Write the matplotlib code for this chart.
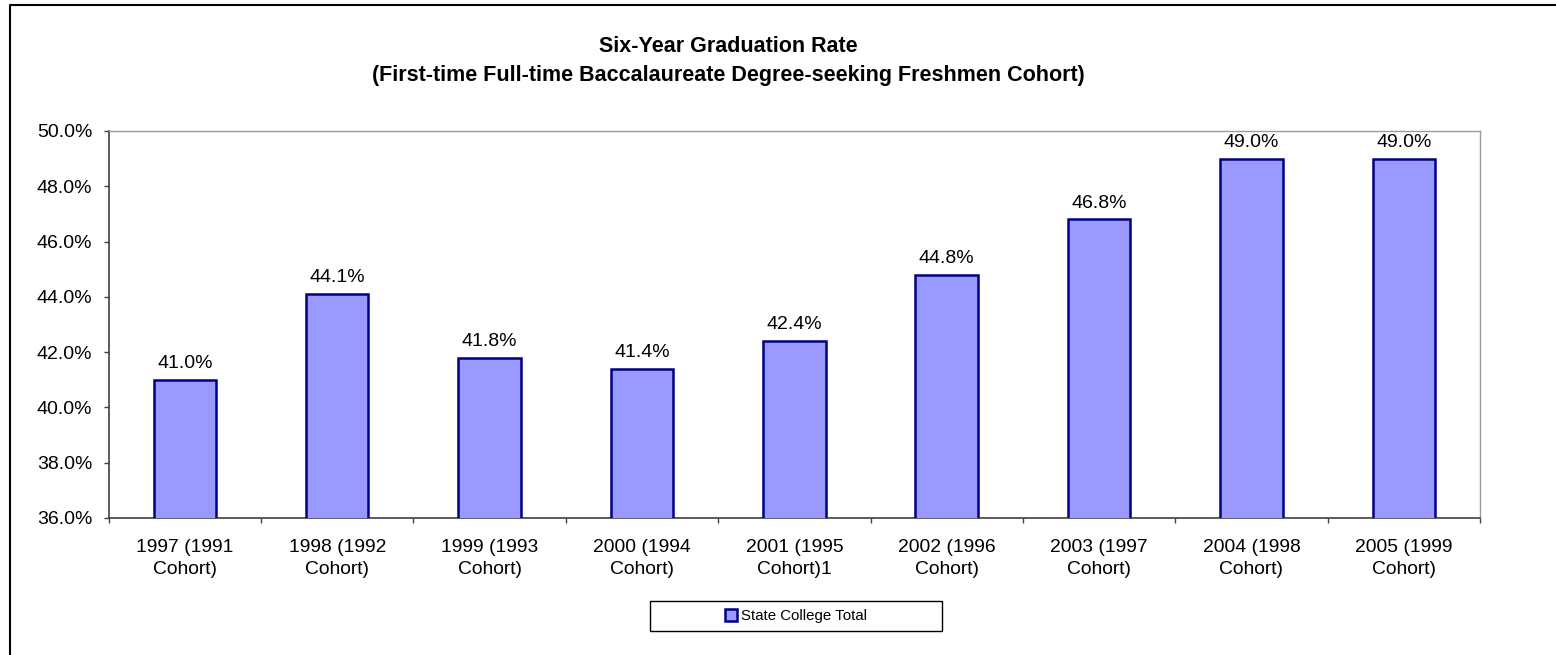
import matplotlib.pyplot as plt
from matplotlib.lines import Line2D
from matplotlib.patches import Patch, Rectangle
from matplotlib.ticker import FuncFormatter, MultipleLocator

plt.rcParams["font.family"] = ["Liberation Sans", "DejaVu Sans"]

categories = [
    "1997 (1991\nCohort)",
    "1998 (1992\nCohort)",
    "1999 (1993\nCohort)",
    "2000 (1994\nCohort)",
    "2001 (1995\nCohort)1",
    "2002 (1996\nCohort)",
    "2003 (1997\nCohort)",
    "2004 (1998\nCohort)",
    "2005 (1999\nCohort)",
]
grad_rates = [41.0, 44.1, 41.8, 41.4, 42.4, 44.8, 46.8, 49.0, 49.0]
series_name = "State College Total"
title_line1 = "Six-Year Graduation Rate"
title_line2 = "(First-time Full-time Baccalaureate Degree-seeking Freshmen Cohort)"

W, H = 1556, 655
fig = plt.figure(figsize=(W / 100, H / 100), dpi=100)
ax = fig.add_axes([108.7 / W, 1 - 518 / H, (1480 - 108.7) / W, (518 - 131) / H])

x = list(range(len(categories)))
ax.bar(x, grad_rates, width=0.41, bottom=0, color="#9999FF",
       edgecolor="#000080", linewidth=1.8, zorder=3)

for xi, v in zip(x, grad_rates):
    ax.annotate(f"{v:.1f}%", (xi, v), xytext=(0, 8.5), textcoords="offset points",
                ha="center", va="baseline", fontsize=14, color="black")

ax.set_ylim(36, 50)
ax.set_xlim(-0.5, len(categories) - 0.5)
ax.yaxis.set_major_locator(MultipleLocator(2))
ax.yaxis.set_major_formatter(FuncFormatter(lambda v, p: f"{v:.1f}%"))
ax.tick_params(axis="y", direction="out", length=3.4, width=1, color="#404040",
               labelsize=14, pad=8.5)

ax.set_xticks(x)
ax.set_xticklabels(categories, fontsize=13.9, linespacing=1.42)
ax.tick_params(axis="x", length=0, pad=15)
ax.set_xticks([i + 0.5 for i in range(-1, len(categories))], minor=True)
ax.tick_params(axis="x", which="minor", direction="out", length=3.4, width=1,
               color="#404040")

for side in ["left", "bottom"]:
    ax.spines[side].set_color("#404040")
    ax.spines[side].set_linewidth(1.2)
for side in ["top", "right"]:
    ax.spines[side].set_color("#9a9a9a")
    ax.spines[side].set_linewidth(1.0)

fig.text(728 / W, 1 - 47 / H, title_line1, ha="center", va="center",
         fontsize=15.5, fontweight="bold")
fig.text(728 / W, 1 - 75 / H, title_line2, ha="center", va="center",
         fontsize=15.5, fontweight="bold")

# legend box
fig.patches.append(Rectangle((650 / W, 1 - 631 / H), 292 / W, 30 / H,
                             transform=fig.transFigure, fill=False,
                             edgecolor="black", linewidth=1.0))
handle = Patch(facecolor="#9999FF", edgecolor="#000080", linewidth=1.8)
fig.legend([handle], [series_name], loc="center", bbox_to_anchor=(796 / W, 1 - 616 / H),
           frameon=False, fontsize=10.8, handlelength=0.8, handleheight=0.8,
           handletextpad=0.25)

# outer chart border (only top and left edges fall inside the image)
fig.add_artist(Line2D([10 / W, 10 / W, 1.0], [0.0, 1 - 4.5 / H, 1 - 4.5 / H],
                      transform=fig.transFigure, color="black", linewidth=1.5))

fig.savefig("out.png", dpi=100)
